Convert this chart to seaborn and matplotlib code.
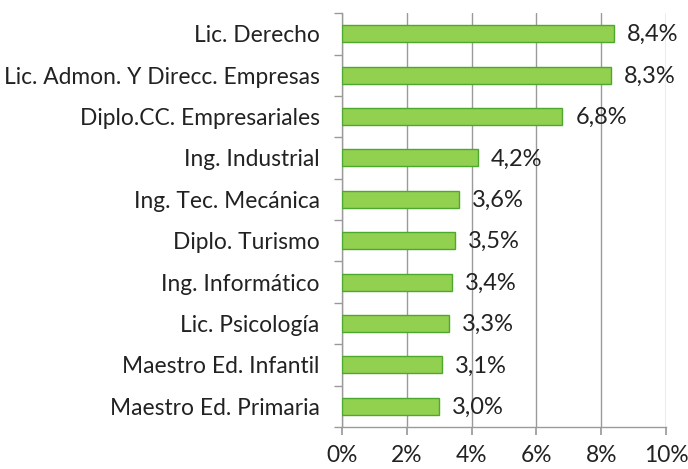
import matplotlib
matplotlib.use("Agg")
import matplotlib.pyplot as plt
import seaborn as sns
import pandas as pd
from matplotlib.ticker import FuncFormatter

categories = [
    "Lic. Derecho",
    "Lic. Admon. Y Direcc. Empresas",
    "Diplo.CC. Empresariales",
    "Ing. Industrial",
    "Ing. Tec. Mecánica",
    "Diplo. Turismo",
    "Ing. Informático",
    "Lic. Psicología",
    "Maestro Ed. Infantil",
    "Maestro Ed. Primaria",
]
values = [8.4, 8.3, 6.8, 4.2, 3.6, 3.5, 3.4, 3.3, 3.1, 3.0]
value_labels = ["8,4%", "8,3%", "6,8%", "4,2%", "3,6%", "3,5%", "3,4%", "3,3%", "3,1%", "3,0%"]
x_ticks = [0, 2, 4, 6, 8, 10]

sns.set_theme(style="white")
plt.rcParams["font.family"] = ["Lato", "DejaVu Sans"]

df = pd.DataFrame({"cat": categories, "val": values})

fig = plt.figure(figsize=(6.88, 4.69), dpi=100)
ax = fig.add_axes([0.497, 0.0896, 0.471, 0.8824])

sns.barplot(data=df, y="cat", x="val", orient="h", color="#92D050",
            edgecolor="#4EA72E", linewidth=1.0, width=0.41, saturation=1, ax=ax, zorder=3)

ax.set_xlim(0, 10)
ax.set_ylim(len(categories) - 0.5, -0.5)
ax.set_xticks(x_ticks)
ax.xaxis.set_major_formatter(FuncFormatter(lambda v, p: f"{int(v)}%"))
ax.set_xlabel("")
ax.set_ylabel("")
ax.grid(axis="x", color="#9a9a9a", linewidth=1.0, zorder=0)
ax.set_axisbelow(True)

for s in ["top", "right"]:
    ax.spines[s].set_visible(False)
for s in ["left", "bottom"]:
    ax.spines[s].set_color("#9a9a9a")
    ax.spines[s].set_linewidth(1.0)

ax.set_yticks(range(len(categories)))
ax.set_yticklabels(categories)
ax.tick_params(axis="y", length=0, pad=16, labelsize=16.4, colors="#222222")
ax.set_yticks([i - 0.5 for i in range(len(categories) + 1)], minor=True)
ax.tick_params(axis="y", which="minor", length=6, color="#9a9a9a", direction="out", left=True)
ax.tick_params(axis="x", length=6, color="#9a9a9a", direction="out", bottom=True,
               labelsize=16.4, pad=7, colors="#222222")

for i, (v, lab) in enumerate(zip(values, value_labels)):
    ax.annotate(lab, xy=(v, i), xytext=(13, -1), textcoords="offset pixels",
                va="center", ha="left", fontsize=17, color="#222222", zorder=5)

fig.savefig("out.png", dpi=100)
